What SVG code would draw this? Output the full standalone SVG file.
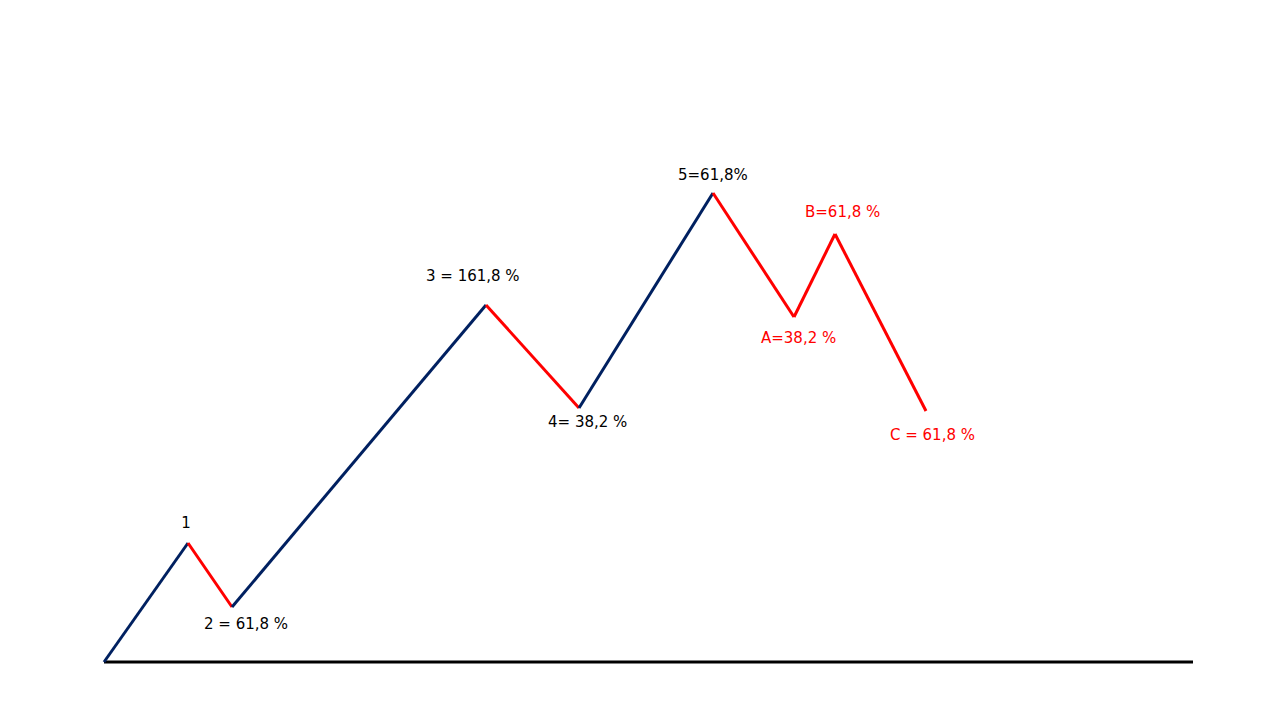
<svg xmlns="http://www.w3.org/2000/svg" width="1280" height="720" viewBox="0 0 1280 720">
<style>
.lbl{font-family:"DejaVu Sans","Liberation Sans",sans-serif;font-size:15px}
.blk{fill:#000}
.red{fill:#FF0000}
.up{stroke:#002060;stroke-width:3;fill:none}
.dn{stroke:#FF0000;stroke-width:3;fill:none}
</style>
<rect width="1280" height="720" fill="#fff"/>
<g id="connectors">
<line x1="104" y1="662" x2="1193" y2="662" stroke="#000" stroke-width="3"/>
<line class="up" x1="104" y1="662" x2="188" y2="543"/>
<line class="dn" x1="188" y1="543" x2="232" y2="607"/>
<line class="up" x1="232" y1="607" x2="486" y2="305"/>
<line class="dn" x1="486" y1="305" x2="579" y2="408"/>
<line class="up" x1="579" y1="408" x2="713" y2="193"/>
<line class="dn" x1="713" y1="193" x2="794" y2="317"/>
<line class="dn" x1="794" y1="317" x2="835" y2="234"/>
<line class="dn" x1="835" y1="234" x2="926" y2="411"/>
</g>
<g id="w1"><text class="lbl blk" x="186" y="528" text-anchor="middle">1</text></g>
<g id="w2"><text class="lbl blk" x="204" y="629">2 = 61,8 %</text></g>
<g id="w3"><text class="lbl blk" x="426" y="281">3 = 161,8 %</text></g>
<g id="w4"><text class="lbl blk" x="548" y="427">4= 38,2 %</text></g>
<g id="w5"><text class="lbl blk" x="678" y="180">5=61,8%</text></g>
<g id="wA"><text class="lbl red" x="761" y="343">A=38,2 %</text></g>
<g id="wB"><text class="lbl red" x="805" y="217">B=61,8 %</text></g>
<g id="wC"><text class="lbl red" x="890" y="440">C = 61,8 %</text></g>
</svg>
